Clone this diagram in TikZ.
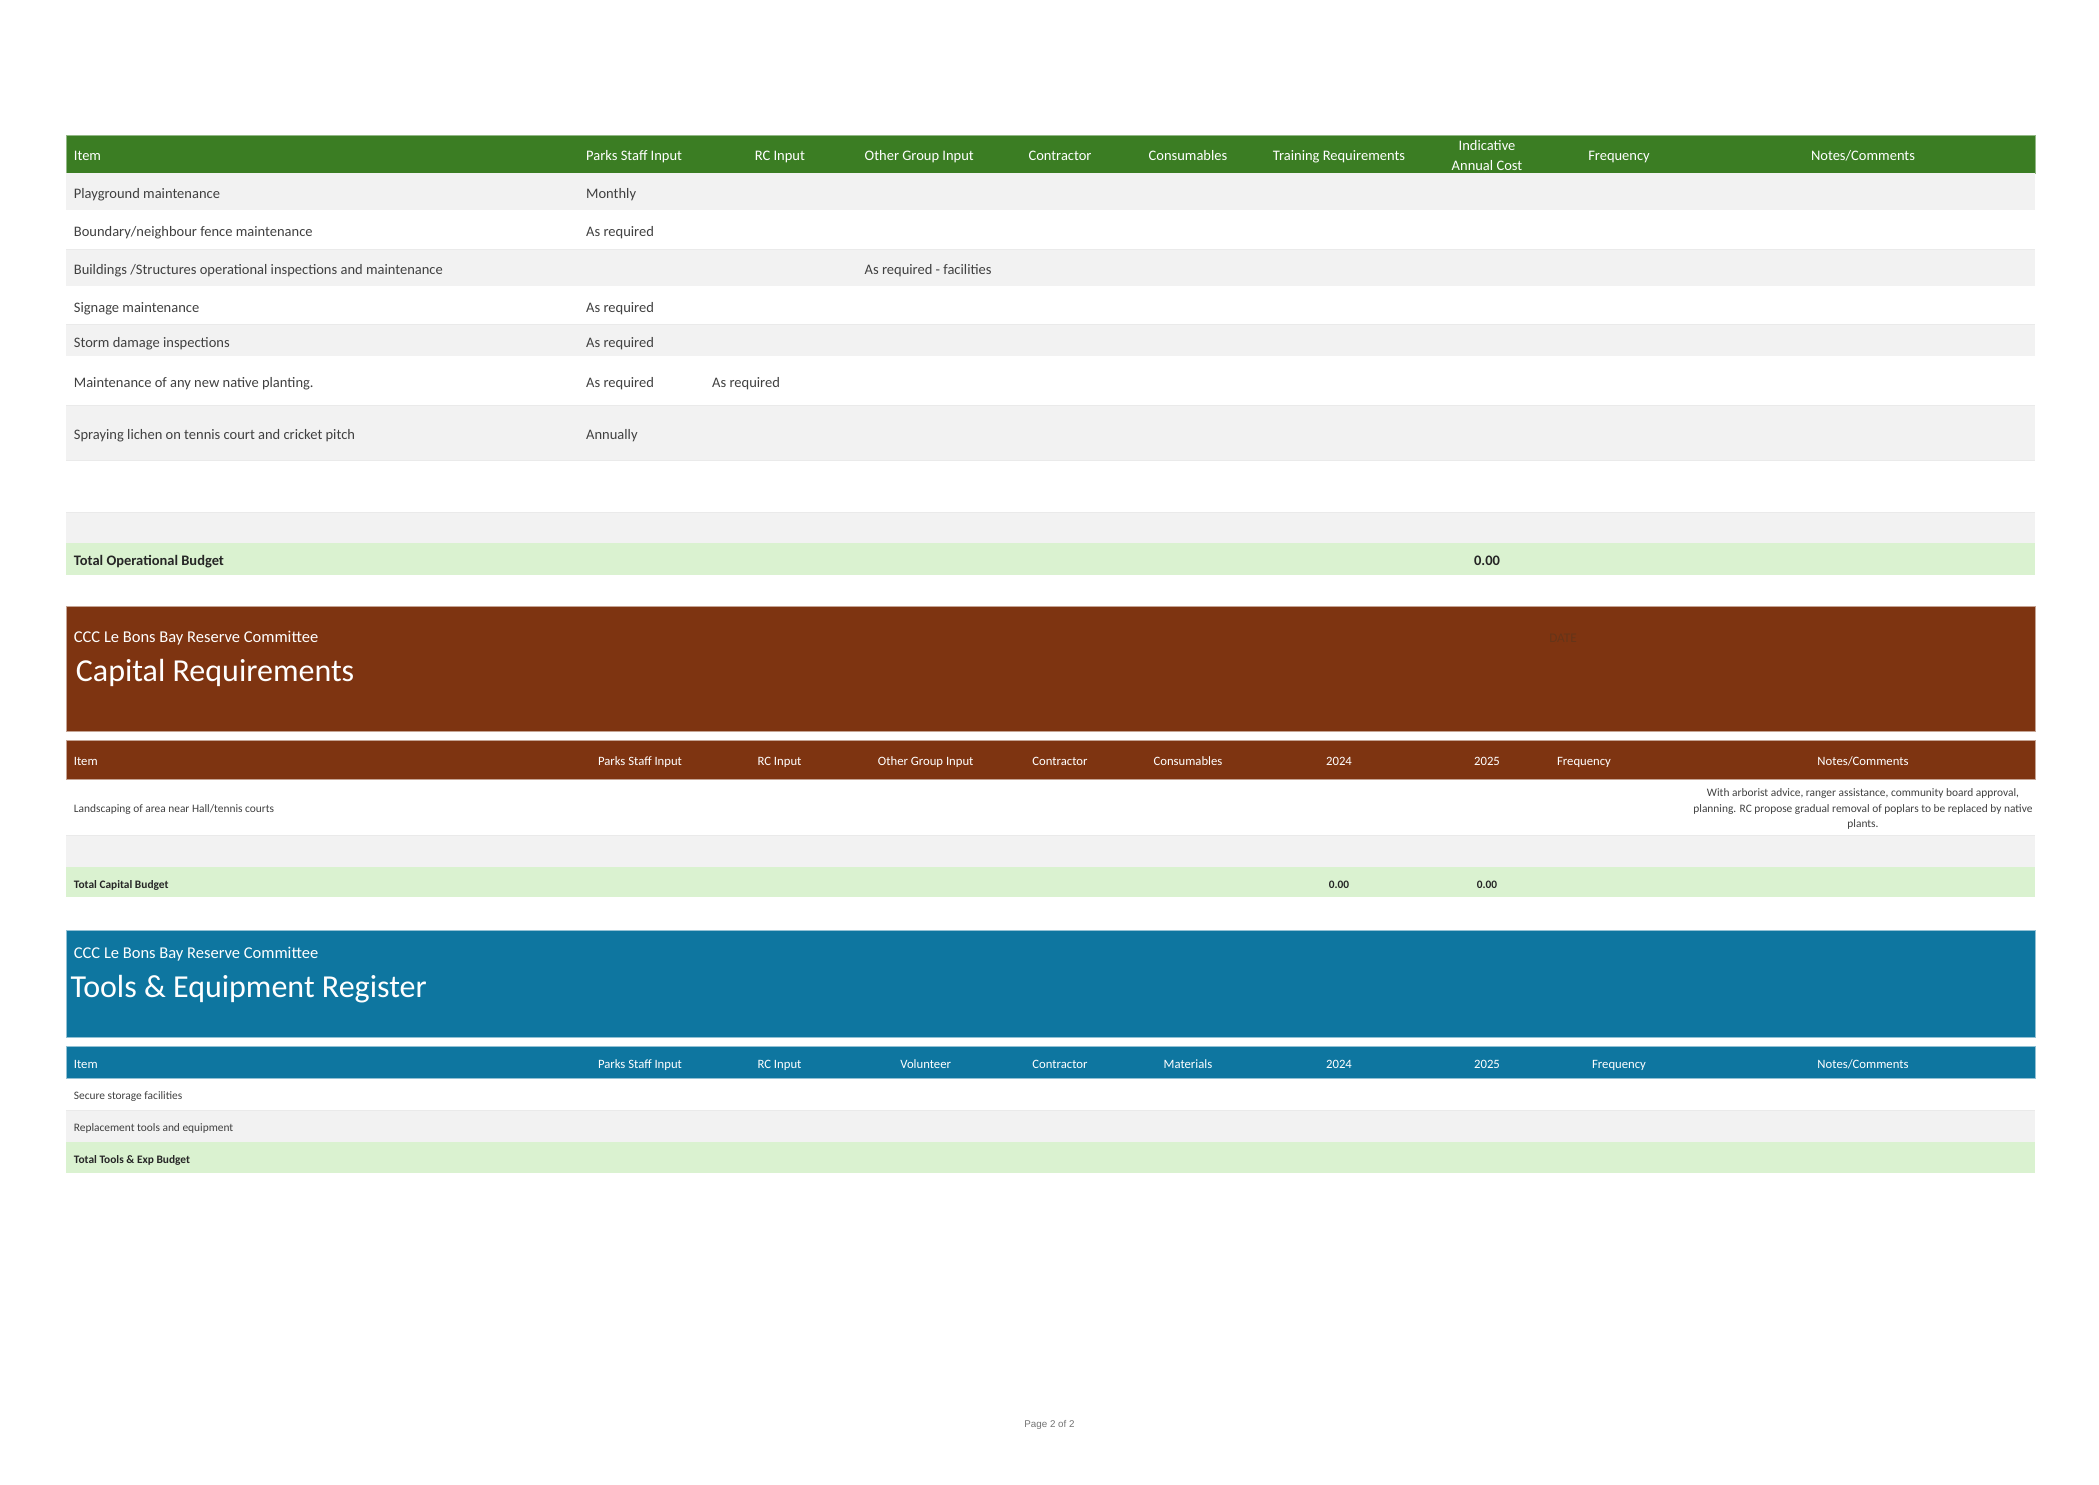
\documentclass[tikz,border=0pt]{standalone}
\usepackage{fontspec}
\setmainfont{Carlito}
\newfontfamily\pagefont{Liberation Sans}
\definecolor{hgreen}{HTML}{3B7D23}
\definecolor{hbrown}{HTML}{7E3411}
\definecolor{hblue}{HTML}{0E76A0}
\definecolor{rowgray}{HTML}{F2F2F2}
\definecolor{totgreen}{HTML}{DAF2D0}
\definecolor{txtgray}{HTML}{404040}
\definecolor{sepgray}{HTML}{EAEAEA}
\definecolor{datebrown}{HTML}{653419}
\begin{document}
\begin{tikzpicture}[x=1pt,y=-1pt,
  bigtx/.style={inner sep=0pt,text=txtgray,font=\fontsize{14.5}{17}\selectfont},
  bighd/.style={inner sep=0pt,text=white,font=\fontsize{14.5}{17}\selectfont},
  bigtot/.style={inner sep=0pt,text=black!85,font=\bfseries\fontsize{14.5}{17}\selectfont},
  smtx/.style={inner sep=0pt,text=txtgray,font=\fontsize{11.4}{15}\selectfont},
  smhd/.style={inner sep=0pt,text=white,font=\fontsize{12.7}{15}\selectfont},
  smtot/.style={inner sep=0pt,text=black!85,font=\bfseries\fontsize{11.4}{15}\selectfont},
  subttl/.style={inner sep=0pt,text=white,font=\fontsize{16.5}{19}\selectfont},
  bigttl/.style={inner sep=0pt,text=white,font=\fontsize{32}{36}\selectfont},
  sep/.style={draw=sepgray,line width=1pt},
  L/.style={anchor=base west,yshift=-1.3pt},
  C/.style={anchor=base,yshift=-1.3pt}]
\useasboundingbox (0,0) rectangle (2099,1484);
\fill[white] (0,0) rectangle (2099,1484);

% ---------------- Section 1: operational table ----------------
\fill[hgreen] (66,135) rectangle (2035,173);
\draw[hgreen!55!white,line width=1pt] (66,135) rectangle (2035,173);
\fill[rowgray] (66,173) rectangle (2035,210);
\fill[rowgray] (66,250) rectangle (2035,286);
\fill[rowgray] (66,325) rectangle (2035,356);
\fill[rowgray] (66,406) rectangle (2035,460);
\fill[rowgray] (66,513) rectangle (2035,543);
\fill[totgreen] (66,543) rectangle (2035,575);
\draw[sep] (66,249.5) -- (2035,249.5);
\draw[sep] (66,324.5) -- (2035,324.5);
\draw[sep] (66,405.5) -- (2035,405.5);
\draw[sep] (66,460.5) -- (2035,460.5);
\draw[sep] (66,512.5) -- (2035,512.5);

\node[bighd,L] (h1item) at (73.7,159) {Item};
\node[bighd,L] (h1parks) at (586,159) {Parks Staff Input};
\node[bighd,L] (h1rc) at (754.6,159) {RC Input};
\node[bighd,L] (h1other) at (864.5,159) {Other Group Input};
\node[bighd,C] (h1contr) at (1060,159) {Contractor};
\node[bighd,C] (h1cons) at (1188,159) {Consumables};
\node[bighd,C] (h1train) at (1339,159) {Training Requirements};
\node[bighd,C] (h1ind) at (1487,149.6) {Indicative};
\node[bighd,C] (h1ann) at (1487,169.6) {Annual Cost};
\node[bighd,C] (h1freq) at (1619,159) {Frequency};
\node[bighd,C] (h1notes) at (1863,159) {Notes/Comments};

\node[bigtx,L] (r1) at (73.7,197.3) {Playground maintenance};
\node[bigtx,L] (r1p) at (586,197.3) {Monthly};
\node[bigtx,L] (r2) at (73.7,235.3) {Boundary/neighbour fence maintenance};
\node[bigtx,L] (r2p) at (586,235.3) {As required};
\node[bigtx,L] (r3) at (73.7,273.3) {Buildings /Structures operational inspections and maintenance};
\node[bigtx,L] (r3o) at (864.5,273.3) {As required - facilities};
\node[bigtx,L] (r4) at (73.7,311.3) {Signage maintenance};
\node[bigtx,L] (r4p) at (586,311.3) {As required};
\node[bigtx,L] (r5) at (73.7,346.3) {Storm damage inspections};
\node[bigtx,L] (r5p) at (586,346.3) {As required};
\node[bigtx,L] (r6) at (73.7,386.3) {Maintenance of any new native planting.};
\node[bigtx,L] (r6p) at (586,386.3) {As required};
\node[bigtx,L] (r6r) at (712,386.3) {As required};
\node[bigtx,L] (r7) at (73.7,438.6) {Spraying lichen on tennis court and cricket pitch};
\node[bigtx,L] (r7p) at (586,438.6) {Annually};
\node[bigtot,L] (t1) at (73.7,564.6) {Total Operational Budget};
\node[bigtot,C] (t1v) at (1487,564.6) {0.00};

% ---------------- Section 2: capital requirements ----------------
\fill[hbrown] (66,606.7) rectangle (2035,731.7);
\draw[hbrown!45!white,line width=1pt] (66,606.7) rectangle (2035,731.7);
\node[subttl,L] (s2sub) at (73.7,641.5) {CCC Le Bons Bay Reserve Committee};
\node[bigttl,L] (s2ttl) at (75.7,680) {Capital Requirements};
\node[inner sep=0pt,C,text=datebrown,font=\fontsize{13.2}{15}\selectfont] (s2date) at (1563,641.5) {DATE};

\fill[hbrown] (66,740) rectangle (2035,779);
\draw[hbrown!45!white,line width=1pt] (66,740) rectangle (2035,779);
\node[smhd,L] (h2item) at (73.7,764.1) {Item};
\node[smhd,C] (h2parks) at (640,764.1) {Parks Staff Input};
\node[smhd,C] (h2rc) at (779.5,764.1) {RC Input};
\node[smhd,C] (h2other) at (925.7,764.1) {Other Group Input};
\node[smhd,C] (h2contr) at (1060,764.1) {Contractor};
\node[smhd,C] (h2cons) at (1188,764.1) {Consumables};
\node[smhd,C] (h2y24) at (1339,764.1) {2024};
\node[smhd,C] (h2y25) at (1487,764.1) {2025};
\node[smhd,C] (h2freq) at (1584,764.1) {Frequency};
\node[smhd,C] (h2notes) at (1863,764.1) {Notes/Comments};

\draw[sep] (66,835.5) -- (2035,835.5);
\fill[rowgray] (66,836) rectangle (2035,867);
\fill[totgreen] (66,867) rectangle (2035,897.3);
\node[smtx,L] (c1) at (73.7,811) {Landscaping of area near Hall/tennis courts};
\node[smtx,C] (c1n1) at (1863,795.4) {With arborist advice, ranger assistance, community board approval,};
\node[smtx,C] (c1n2) at (1863,811) {planning. RC propose gradual removal of poplars to be replaced by native};
\node[smtx,C] (c1n3) at (1863,826.4) {plants.};
\node[smtot,L] (t2) at (73.7,886.7) {Total Capital Budget};
\node[smtot,C] (t2a) at (1339,886.7) {0.00};
\node[smtot,C] (t2b) at (1487,886.7) {0.00};

% ---------------- Section 3: tools & equipment ----------------
\fill[hblue] (66,930) rectangle (2035,1037.3);
\draw[hblue!45!white,line width=1pt] (66,930) rectangle (2035,1037.3);
\node[subttl,L] (s3sub) at (73.7,957) {CCC Le Bons Bay Reserve Committee};
\node[bigttl,L] (s3ttl) at (70.3,996.5) {Tools \& Equipment Register};

\fill[hblue] (66,1046.7) rectangle (2035,1078.3);
\draw[hblue!45!white,line width=1pt] (66,1046.7) rectangle (2035,1078.3);
\node[smhd,L] (h3item) at (73.7,1067.4) {Item};
\node[smhd,C] (h3parks) at (640,1067.4) {Parks Staff Input};
\node[smhd,C] (h3rc) at (779.5,1067.4) {RC Input};
\node[smhd,C] (h3vol) at (925.7,1067.4) {Volunteer};
\node[smhd,C] (h3contr) at (1060,1067.4) {Contractor};
\node[smhd,C] (h3mat) at (1188,1067.4) {Materials};
\node[smhd,C] (h3y24) at (1339,1067.4) {2024};
\node[smhd,C] (h3y25) at (1487,1067.4) {2025};
\node[smhd,C] (h3freq) at (1619,1067.4) {Frequency};
\node[smhd,C] (h3notes) at (1863,1067.4) {Notes/Comments};

\draw[sep] (66,1110.5) -- (2035,1110.5);
\fill[rowgray] (66,1111) rectangle (2035,1141.7);
\fill[totgreen] (66,1141.7) rectangle (2035,1172.7);
\node[smtx,L] (e1) at (73.7,1098.4) {Secure storage facilities};
\node[smtx,L] (e2) at (73.7,1130.4) {Replacement tools and equipment};
\node[smtot,L] (t3) at (73.7,1162) {Total Tools \& Exp Budget};

% ---------------- footer ----------------
\node[inner sep=0pt,C,text=black!55,font=\pagefont\fontsize{9.8}{12}\selectfont] (pg) at (1049.5,1426.5) {Page 2 of 2};
\end{tikzpicture}
\end{document}
